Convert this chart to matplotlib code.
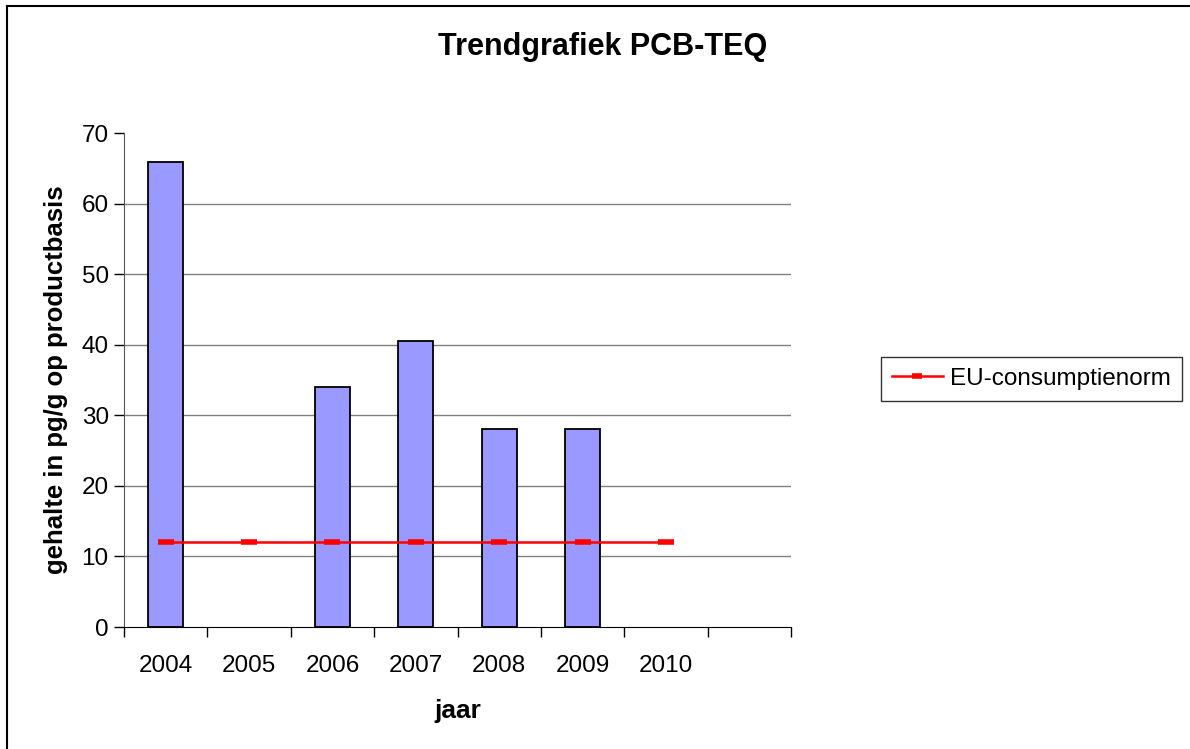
import matplotlib.pyplot as plt
from matplotlib.lines import Line2D

plt.rcParams['font.family'] = ['Liberation Sans', 'DejaVu Sans']

jaren = ["2004", "2005", "2006", "2007", "2008", "2009", "2010", ""]
pcb_teq = [65.9, None, 34.0, 40.5, 28.0, 28.0, None, None]
eu_norm = [12, 12, 12, 12, 12, 12, 12, None]

fig = plt.figure(figsize=(11.9, 7.49), dpi=100)
ax = fig.add_axes([124 / 1190, 1 - 627 / 749, 667 / 1190, 494 / 749])

x = list(range(len(jaren)))
bx = [i for i, v in zip(x, pcb_teq) if v is not None]
bv = [v for v in pcb_teq if v is not None]
ax.bar(bx, bv, width=0.42, color="#9999ff", edgecolor="black", linewidth=1.3, zorder=3)

lx = [i for i, v in zip(x, eu_norm) if v is not None]
lv = [v for v in eu_norm if v is not None]
ax.plot(lx, lv, color="#ff0000", linewidth=1.8, marker="_", markersize=11,
        markeredgewidth=4, label="EU-consumptienorm", zorder=4)

ax.set_xlim(-0.5, len(jaren) - 0.5)
ax.set_ylim(0, 70)
ax.set_yticks(range(0, 71, 10))
ax.set_xticks([i - 0.5 for i in range(len(jaren) + 1)])
ax.set_xticklabels([])
ax.set_xticks(x, minor=True)
ax.set_xticklabels(jaren, minor=True)
ax.tick_params(axis="x", which="minor", length=0, pad=20, labelsize=17.5)
ax.tick_params(axis="x", which="major", length=7, width=1)
ax.tick_params(axis="y", length=7, width=1, labelsize=17.5, pad=4)
for v in range(10, 70, 10):
    ax.axhline(v, color="#808080", linewidth=1, zorder=1)
for s in ["top", "right"]:
    ax.spines[s].set_visible(False)
ax.spines["left"].set_color("#555555")

ax.set_xlabel("jaar", fontsize=19, fontweight="bold", labelpad=16)
ax.set_ylabel("gehalte in pg/g op productbasis", fontsize=18.5, fontweight="bold", labelpad=10)
fig.text(603 / 1190, 1 - 47 / 749, "Trendgrafiek PCB-TEQ", fontsize=22, fontweight="bold",
         ha="center", va="center")

leg = fig.legend(loc="center left", bbox_to_anchor=(881 / 1190, 1 - 379 / 749), fontsize=17.5,
                 frameon=True, fancybox=False, edgecolor="black", handlelength=2.1,
                 handletextpad=0.3, borderpad=0.45, borderaxespad=0, markerscale=0.6)
leg.get_frame().set_linewidth(1)

fig.add_artist(Line2D([7 / 1190, 7 / 1190], [0, 1 - 6 / 749], transform=fig.transFigure,
                      color="black", linewidth=1.5))
fig.add_artist(Line2D([7 / 1190, 1], [1 - 6 / 749, 1 - 6 / 749], transform=fig.transFigure,
                      color="black", linewidth=1.5))

fig.savefig("out.png", dpi=100)
